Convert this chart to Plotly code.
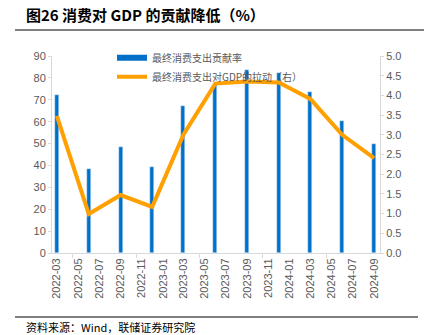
import plotly.graph_objects as go

dates = ["2022-03-01", "2022-06-01", "2022-09-01", "2022-12-01", "2023-03-01", "2023-06-01",
         "2023-09-01", "2023-12-01", "2024-03-01", "2024-06-01", "2024-09-01"]
contrib_rate = [72.0, 38.5, 48.5, 39.3, 67.0, 76.8, 83.6, 82.4, 73.7, 60.4, 49.8]
gdp_pull = [3.48, 0.99, 1.47, 1.17, 3.0, 4.3, 4.35, 4.33, 3.91, 3.0, 2.41]
bar_name = "最终消费支出贡献率"
line_name = "最终消费支出对GDP的拉动（右）"
title = "<b>图26 消费对 GDP 的贡献降低（%）</b>"
source = "资料来源：Wind，联储证券研究院"

W, H = 424, 335
L, R, T, B = 52, 44, 56, 82
DAY = 86400000
BLUE = "#0070C8"

fig = go.Figure()
fig.add_trace(go.Bar(x=dates, y=contrib_rate, name=bar_name, marker_color=BLUE,
                     width=12 * DAY, yaxis="y", showlegend=False))
# legend entry for the bars (wide rectangle swatch like the original)
fig.add_trace(go.Scatter(x=[None], y=[None], name=bar_name, mode="lines",
                         line=dict(color=BLUE, width=6), yaxis="y"))
fig.add_trace(go.Scatter(x=dates, y=gdp_pull, name=line_name, mode="lines",
                         line=dict(color="#FFA000", width=4), yaxis="y2"))

font_cjk = "Noto Sans CJK SC"
fig.update_layout(
    width=W, height=H,
    margin=dict(l=L, r=R, t=T, b=B),
    plot_bgcolor="white", paper_bgcolor="white",
    bargap=0,
    font=dict(family="Liberation Sans, Arial, " + font_cjk, size=11, color="#595959"),
    xaxis=dict(type="date", range=["2022-02-15", "2024-09-18"], tick0="2022-03-01", dtick="M2",
               tickformat="%Y-%m", tickangle=-90, showgrid=False, showline=True,
               linecolor="#D9D9D9", linewidth=1, ticks="", tickfont=dict(size=11, color="#595959"),
               minor=dict(ticks="outside", tick0="2022-04-16", dtick="M6", ticklen=4,
                          tickcolor="#D9D9D9", showgrid=False)),
    yaxis=dict(range=[0, 90], dtick=10, showgrid=False, showline=True, linecolor="#D9D9D9",
               ticks="outside", ticklen=3, tickcolor="#D9D9D9", zeroline=False,
               tickfont=dict(size=11, color="#595959")),
    yaxis2=dict(range=[0, 5], dtick=0.5, tickformat=".1f", overlaying="y", side="right",
                showgrid=False, showline=True, linecolor="#D9D9D9", ticks="outside", ticklen=3,
                tickcolor="#D9D9D9", zeroline=False, tickfont=dict(size=11, color="#595959")),
    legend=dict(x=(112 - L) / (W - L - R), y=1.065, xanchor="left", yanchor="top",
                bgcolor="rgba(0,0,0,0)", font=dict(family=font_cjk, size=10, color="#595959"),
                tracegroupgap=4, itemwidth=30),
    showlegend=True,
)
fig.add_annotation(text=title, xref="paper", yref="paper", x=-(L - 24) / (W - L - R),
                   y=1 + (T - 15) / (H - T - B), xanchor="left", yanchor="middle", showarrow=False,
                   font=dict(family=font_cjk, size=15, color="#000000"))
fig.add_annotation(text=source, xref="paper", yref="paper", x=-(L - 24) / (W - L - R),
                   y=-(327 - (H - B)) / (H - T - B), xanchor="left", yanchor="middle", showarrow=False,
                   font=dict(family=font_cjk, size=11, color="#000000"))
fig.add_shape(type="line", xref="paper", yref="paper", x0=-(L - 15) / (W - L - R), x1=(W - L) / (W - L - R),
              y0=1 + (T - 30) / (H - T - B), y1=1 + (T - 30) / (H - T - B),
              line=dict(color="#808080", width=2))
fig.add_shape(type="line", xref="paper", yref="paper", x0=-(L - 15) / (W - L - R), x1=(418 - L) / (W - L - R),
              y0=-(317 - (H - B)) / (H - T - B), y1=-(317 - (H - B)) / (H - T - B),
              line=dict(color="#000000", width=1))

fig.write_html("out.html")
